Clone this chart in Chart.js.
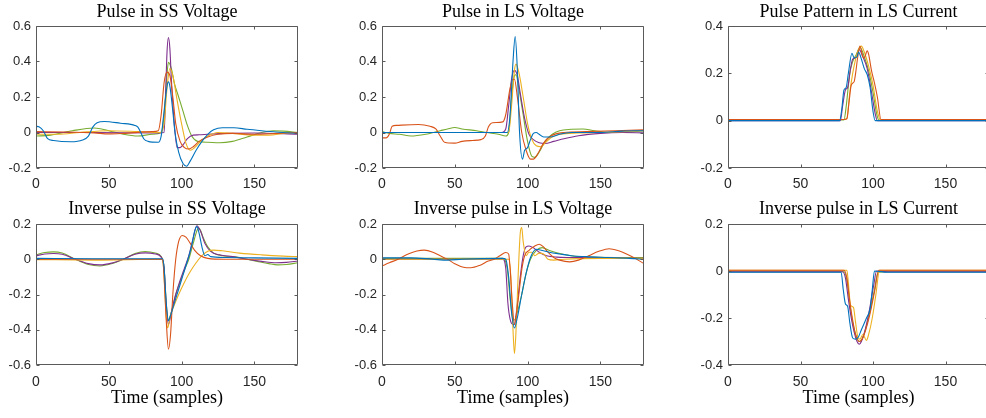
<!DOCTYPE html>
<html><head><meta charset="utf-8">
<script src="https://cdn.jsdelivr.net/npm/chart.js@4.4.1/dist/chart.umd.min.js"></script>
<style>
html,body{margin:0;padding:0;background:#fff;overflow:hidden;width:986px;height:418px;position:relative}
canvas{position:absolute}
</style></head><body>
<canvas id="c0" width="306" height="198" style="left:-4px;top:0px"></canvas>
<canvas id="c1" width="306" height="198" style="left:342px;top:0px"></canvas>
<canvas id="c2" width="305" height="198" style="left:688px;top:0px"></canvas>
<canvas id="c3" width="306" height="213" style="left:-4px;top:200px"></canvas>
<canvas id="c4" width="306" height="213" style="left:342px;top:200px"></canvas>
<canvas id="c5" width="305" height="213" style="left:688px;top:200px"></canvas>
<script>
// ---------- titles / axes ----------
const titles = ["Pulse in SS Voltage","Pulse in LS Voltage","Pulse Pattern in LS Current",
                "Inverse pulse in SS Voltage","Inverse pulse in LS Voltage","Inverse pulse in LS Current"];
const xLabel = "Time (samples)";
const xTicks = [0,50,100,150];
const yMins = [-0.2,-0.2,-0.2,-0.6,-0.6,-0.4];
const yMaxs = [0.6,0.6,0.4,0.2,0.2,0.2];

// ---------- series: [sample, value] ----------
// Panel 1: Pulse in SS Voltage
const p1Blue = [[0,0.035],[2,0.032],[5,0.01],[8,-0.035],[12,-0.045],[24,-0.052],[32,-0.042],[36,-0.02],[39,0.03],[42,0.055],[47,0.062],[58,0.052],[68,0.04],[70,0.03],[72,0.0],[74,-0.035],[77,-0.05],[84,-0.055],[86,-0.02],[88,0.12],[90,0.26],[91,0.285],[92,0.26],[94,0.12],[95.5,0.0],[98,-0.11],[101,-0.175],[103.5,-0.19],[106,-0.16],[110,-0.1],[114,-0.05],[118,-0.01],[122,0.015],[128,0.027],[136,0.027],[145,0.018],[155,0.01],[165,0.003],[180,-0.005]];
const p1Orange = [[0,0.005],[20,0.003],[40,-0.002],[50,-0.008],[60,-0.005],[80,0.005],[84,0.01],[86,0.1],[88,0.28],[90,0.34],[92,0.32],[94,0.2],[96,0.05],[99,-0.05],[102,-0.085],[105,-0.093],[108,-0.08],[112,-0.05],[118,-0.025],[125,-0.01],[135,-0.005],[150,-0.01],[165,-0.005],[180,0.0]];
const p1Yellow = [[0,-0.01],[15,-0.01],[30,0.0],[50,0.01],[70,0.005],[85,0.0],[88,0.05],[90,0.25],[92,0.36],[94,0.32],[97,0.18],[100,0.05],[103,-0.06],[106,-0.1],[109,-0.085],[113,-0.05],[118,-0.02],[125,0.0],[135,-0.005],[150,-0.015],[160,-0.015],[170,-0.005],[180,0.0]];
const p1Purple = [[0,0.0],[40,0.0],[80,-0.003],[88,0.0],[89,0.2],[90,0.45],[91,0.535],[92,0.47],[93,0.3],[95,0.05],[97,-0.085],[99,-0.085],[101,-0.07],[104,-0.035],[108,-0.015],[112,-0.013],[118,-0.01],[130,-0.005],[150,-0.003],[180,-0.01]];
const p1Green = [[0,-0.02],[10,-0.015],[25,0.01],[40,0.025],[50,0.01],[60,-0.01],[70,-0.02],[80,-0.01],[86,0.0],[88,0.1],[90,0.33],[91,0.395],[93,0.36],[95,0.28],[98,0.2],[101,0.12],[104,0.04],[107,-0.02],[111,-0.05],[118,-0.055],[126,-0.058],[135,-0.05],[145,-0.025],[155,0.0],[163,0.01],[170,0.008],[180,0.0]];

// Panel 2: Pulse in LS Voltage
const p2Blue = [[0,0.0],[50,0.0],[86,0.0],[88,0.1],[90,0.4],[91.5,0.54],[93,0.35],[94.5,0.0],[96.5,-0.15],[98,-0.1],[100,-0.085],[102,-0.04],[104,-0.005],[106,0.0],[108,-0.01],[111,-0.025],[116,-0.025],[122,-0.01],[130,0.0],[150,0.0],[165,0.008],[180,0.01]];
const p2Orange = [[0,-0.03],[3,-0.03],[5,-0.01],[7,0.035],[10,0.04],[25,0.045],[33,0.035],[37,0.02],[40,-0.02],[43,-0.055],[50,-0.06],[55,-0.05],[62,-0.045],[68,-0.04],[71,-0.02],[73,0.03],[76,0.055],[83,0.06],[85,0.1],[88,0.25],[90,0.3],[91,0.3],[93,0.2],[96,0.0],[99,-0.1],[102,-0.15],[104,-0.15],[107,-0.12],[111,-0.06],[116,-0.02],[125,0.0],[140,0.005],[160,0.01],[180,0.015]];
const p2Yellow = [[0,0.0],[40,0.0],[80,0.0],[87,0.0],[89,0.15],[91,0.35],[92,0.385],[94,0.34],[97,0.2],[100,0.05],[103,-0.04],[106,-0.075],[109,-0.08],[112,-0.06],[116,-0.03],[122,-0.01],[135,-0.003],[150,0.0],[165,0.005],[180,0.01]];
const p2Purple = [[0,0.0],[40,0.0],[82,0.0],[85,0.02],[87,0.15],[89,0.3],[91,0.35],[93,0.32],[95,0.22],[98,0.08],[101,-0.01],[104,-0.04],[108,-0.058],[112,-0.062],[118,-0.05],[125,-0.035],[135,-0.018],[150,-0.005],[165,0.0],[180,-0.002]];
const p2Green = [[0,0.005],[5,-0.005],[12,-0.01],[20,-0.02],[30,-0.01],[40,0.01],[45,0.02],[50,0.028],[55,0.02],[65,0.01],[72,0.0],[80,-0.01],[85,-0.02],[87,0.0],[89,0.2],[91,0.32],[92,0.325],[94,0.25],[97,0.1],[100,-0.05],[103,-0.135],[105,-0.14],[108,-0.11],[112,-0.05],[117,-0.01],[122,0.01],[130,0.018],[138,0.02],[146,0.01],[155,0.0],[165,0.0],[180,0.01]];

// Panel 3: Pulse Pattern in LS Current
const p3Blue = [[0,0.0],[70,0.0],[77,0.0],[78.5,0.05],[80,0.13],[81.5,0.14],[83,0.2],[85.5,0.285],[87,0.265],[89,0.27],[90,0.29],[92,0.26],[94,0.22],[96,0.195],[98,0.14],[100,0.04],[101.5,0.0],[110,0.0],[180,0.0]];
const p3Orange = [[0,0.005],[80,0.005],[82,0.008],[83.5,0.08],[85,0.15],[87,0.165],[88,0.2],[89.5,0.27],[91,0.315],[93,0.27],[94,0.265],[96,0.295],[97,0.28],[99,0.21],[101,0.16],[103,0.1],[105.5,0.005],[110,0.005],[180,0.005]];
const p3Yellow = [[0,0.005],[80,0.005],[82,0.01],[84,0.12],[86,0.2],[88,0.26],[90,0.3],[92,0.315],[94,0.29],[97,0.23],[100,0.15],[103,0.04],[105,0.005],[110,0.005],[180,0.005]];
const p3Purple = [[0,0.0],[70,0.0],[77.5,0.0],[79,0.06],[81,0.13],[82.5,0.14],[84.5,0.22],[86,0.26],[88,0.265],[90.5,0.3],[93,0.27],[96,0.22],[99,0.12],[101.5,0.03],[103,0.0],[110,0.0],[180,0.0]];
const p3Green = [[0,0.003],[70,0.003],[80,0.003],[81.5,0.06],[84,0.2],[86,0.25],[88.5,0.28],[91,0.31],[94,0.27],[97,0.21],[100,0.12],[102.5,0.03],[104,0.003],[110,0.003],[180,0.003]];

// Panel 4: Inverse pulse in SS Voltage
const p4Blue = [[0,0.005],[40,0.003],[87,0.003],[88,-0.05],[89.5,-0.25],[91,-0.35],[92,-0.33],[95,-0.25],[98,-0.17],[101,-0.09],[104,-0.01],[107,0.08],[109,0.16],[110.5,0.185],[112,0.15],[114,0.07],[116,0.02],[118,0.027],[120,0.015],[130,0.01],[150,0.008],[180,0.005]];
const p4Orange = [[0,0.0],[40,0.0],[87,0.0],[88,-0.1],[89.5,-0.35],[91,-0.51],[92.5,-0.42],[94,-0.2],[96,0.0],[98,0.1],[100.5,0.135],[103,0.125],[106,0.09],[109,0.05],[113,0.02],[118,0.005],[130,0.0],[180,0.0]];
const p4Yellow = [[0,-0.002],[40,-0.005],[87,0.0],[88,-0.1],[89.5,-0.33],[90.5,-0.39],[92,-0.33],[95,-0.26],[98,-0.2],[102,-0.13],[106,-0.07],[110,-0.02],[114,0.02],[118,0.045],[122,0.052],[128,0.048],[140,0.035],[155,0.025],[170,0.018],[180,0.015]];
const p4Purple = [[0,0.02],[6,0.03],[12,0.033],[18,0.028],[27,0.0],[36,-0.025],[44,-0.032],[52,-0.022],[60,0.0],[68,0.028],[75,0.036],[82,0.03],[86,0.012],[88,-0.05],[89.5,-0.27],[91,-0.37],[93,-0.3],[96,-0.2],[99,-0.12],[102,-0.05],[105,0.02],[108,0.12],[110.5,0.19],[113,0.16],[116,0.09],[120,0.045],[126,0.025],[135,0.015],[145,0.0],[155,-0.012],[165,-0.02],[172,-0.018],[180,-0.01]];
const p4Green = [[0,0.025],[6,0.038],[12,0.042],[18,0.035],[27,0.0],[36,-0.03],[44,-0.038],[52,-0.025],[60,0.0],[68,0.032],[75,0.044],[82,0.035],[86,0.015],[88,-0.05],[89.5,-0.25],[91,-0.345],[93,-0.3],[96,-0.2],[99,-0.13],[102,-0.06],[105,0.0],[108,0.09],[111,0.17],[112,0.175],[115,0.12],[118,0.07],[122,0.035],[128,0.02],[138,0.012],[145,0.0],[152,-0.012],[160,-0.025],[166,-0.032],[172,-0.03],[180,-0.02]];

// Panel 5: Inverse pulse in LS Voltage
const p5Blue = [[0,0.008],[20,0.008],[35,0.0],[45,-0.005],[55,0.0],[83,0.005],[85,0.0],[87,-0.1],[89,-0.3],[91,-0.39],[93,-0.33],[96,-0.2],[99,-0.08],[102,0.01],[106,0.057],[110,0.05],[115,0.04],[122,0.03],[130,0.02],[140,0.015],[155,0.01],[170,0.005],[180,0.0]];
const p5Orange = [[0,-0.038],[5,-0.02],[11,0.0],[18,0.03],[24,0.047],[29,0.052],[35,0.04],[41,0.015],[45,0.0],[50,-0.025],[56,-0.045],[61,-0.048],[67,-0.035],[73,-0.01],[77,0.0],[81,0.02],[85,0.038],[87,0.03],[88,-0.05],[89.5,-0.25],[91,-0.37],[92.5,-0.3],[94,-0.2],[96,-0.06],[98,0.02],[101,0.05],[105,0.075],[108,0.085],[111,0.07],[114,0.04],[118,0.01],[122,-0.005],[129,-0.015],[135,-0.005],[142,0.02],[149,0.045],[156,0.06],[162,0.05],[168,0.03],[174,0.005],[180,-0.025]];
const p5Yellow = [[0,0.0],[40,0.0],[87,0.0],[88.5,-0.1],[90,-0.4],[91,-0.535],[92,-0.42],[93.5,-0.1],[95,0.15],[96,0.18],[97,0.1],[99,0.02],[101,0.04],[103,0.04],[105,0.02],[108,0.035],[111,0.03],[114,0.0],[118,-0.005],[125,0.0],[150,0.005],[180,0.005]];
const p5Purple = [[0,0.0],[40,0.0],[83,0.0],[85,-0.05],[86.5,-0.25],[88,-0.34],[90,-0.37],[91,-0.37],[93,-0.25],[95,-0.1],[97,0.02],[99,0.07],[101,0.075],[104,0.065],[108,0.04],[113,0.02],[120,0.012],[130,0.01],[150,0.007],[180,0.005]];
const p5Green = [[0,0.005],[40,0.005],[83,0.005],[86,-0.05],[88,-0.22],[90,-0.34],[91,-0.345],[93,-0.3],[96,-0.2],[99,-0.08],[102,0.0],[106,0.05],[110,0.066],[115,0.05],[120,0.037],[130,0.02],[145,0.012],[160,0.01],[180,0.01]];

// Panel 6: Inverse pulse in LS Current
const p6Blue = [[0,-0.005],[78,-0.005],[79.5,-0.08],[81,-0.14],[82.5,-0.15],[84,-0.22],[86,-0.285],[88,-0.29],[90,-0.28],[92,-0.25],[95.5,-0.2],[98,-0.16],[99.5,-0.08],[101,0.0],[110,-0.005],[180,-0.005]];
const p6Orange = [[0,0.003],[80,0.003],[82,-0.03],[84,-0.13],[86,-0.21],[88,-0.27],[90.5,-0.3],[92.5,-0.29],[95,-0.25],[98,-0.18],[101,-0.09],[104,0.003],[110,0.003],[180,0.003]];
const p6Yellow = [[0,0.003],[82,0.003],[83,-0.05],[84.5,-0.145],[86.5,-0.155],[88,-0.22],[89.5,-0.28],[91,-0.29],[93,-0.27],[95.5,-0.295],[97,-0.27],[99.5,-0.2],[102,-0.1],[104.5,0.003],[110,0.003],[180,0.003]];
const p6Purple = [[0,-0.003],[79,-0.003],[81,-0.03],[83,-0.12],[85,-0.2],[87,-0.26],[89,-0.3],[90.5,-0.312],[92,-0.3],[95,-0.24],[98,-0.15],[100.5,-0.06],[102.5,0.0],[110,-0.003],[180,-0.003]];
const p6Green = [[0,-0.003],[80,-0.003],[82,-0.04],[84,-0.14],[86,-0.22],[88,-0.27],[90.5,-0.3],[92,-0.295],[95,-0.245],[98,-0.17],[101,-0.08],[103.5,-0.005],[110,-0.003],[180,-0.003]];

const seriesColors = ['#0072BD','#D95319','#EDB120','#7E2F8E','#77AC30'];
const panelSeries = [
  [p1Blue,p1Orange,p1Yellow,p1Purple,p1Green],
  [p2Blue,p2Orange,p2Yellow,p2Purple,p2Green],
  [p3Blue,p3Orange,p3Yellow,p3Purple,p3Green],
  [p4Blue,p4Orange,p4Yellow,p4Purple,p4Green],
  [p5Blue,p5Orange,p5Yellow,p5Purple,p5Green],
  [p6Blue,p6Orange,p6Yellow,p6Purple,p6Green]
];

// ---------- drawing ----------
const AX = '#262626';
const boxPlugin = {
  id: 'matlabBox',
  afterDraw(chart) {
    const {ctx, chartArea: a, scales} = chart;
    const x = scales.x, y = scales.y;
    const L = Math.round(a.left) + 0.5, R = Math.round(a.right) - 0.5;
    const T = Math.round(a.top) + 0.5, B = Math.round(a.bottom) - 0.5;
    ctx.save();
    ctx.strokeStyle = '#5a5a5a';
    ctx.lineWidth = 1;
    ctx.beginPath();
    ctx.rect(L, T, R - L, B - T);
    const tl = 3;
    x.ticks.forEach(t => {
      const px = Math.round(x.getPixelForValue(t.value)) + 0.5;
      ctx.moveTo(px, B); ctx.lineTo(px, B - tl);
      ctx.moveTo(px, T); ctx.lineTo(px, T + tl);
    });
    y.ticks.forEach(t => {
      const py = Math.round(y.getPixelForValue(t.value)) + 0.5;
      ctx.moveTo(L, py); ctx.lineTo(L + tl, py);
      ctx.moveTo(R, py); ctx.lineTo(R - tl, py);
    });
    ctx.stroke();
    ctx.restore();
  }
};

const titleFont = {family: "'Liberation Serif', 'Times New Roman', serif", size: 18, lineHeight: 1};
const tickFmt = v => String(Math.round(v * 10) / 10);

for (let i = 0; i < 6; i++) {
  const bottomRow = i >= 3;
  const datasets = panelSeries[i].map((pts, k) => ({
    data: pts.map(p => ({x: p[0], y: p[1]})),
    borderColor: seriesColors[k],
    borderWidth: 1.1,
    pointRadius: 0,
    fill: false,
    cubicInterpolationMode: 'monotone'
  }));
  new Chart(document.getElementById('c' + i), {
    type: 'line',
    data: {datasets},
    plugins: [boxPlugin],
    options: {
      responsive: false,
      animation: false,
      devicePixelRatio: 1,
      layout: {padding: {left: 0, right: 4, top: 0, bottom: 0}},
      plugins: {legend: {display: false}, tooltip: {enabled: false}, title: {display: false}},
      scales: {
        x: {
          type: 'linear', position: 'bottom', min: 0, max: 180,
          afterBuildTicks: s => { s.ticks = xTicks.map(v => ({value: v})); },
          afterFit: s => { s.height = bottomRow ? 48 : 30; },
          grid: {display: false, drawTicks: false},
          border: {display: false},
          ticks: {color: AX, padding: bottomRow ? 9 : 8, maxRotation: 0, autoSkip: false,
                  callback: v => String(v),
                  font: {family: "'Liberation Sans', Arial, sans-serif", size: 14}},
          title: {display: bottomRow, text: xLabel, color: '#000', font: titleFont,
                  padding: {top: 0, bottom: 6}}
        },
        t: {
          type: 'linear', position: 'top', min: 0, max: 1,
          afterFit: s => { s.height = bottomRow ? 24 : 26; },
          grid: {display: false, drawTicks: false},
          border: {display: false},
          ticks: {display: false},
          title: {display: true, text: titles[i], color: '#000', font: titleFont,
                  padding: {top: bottomRow ? 0 : 3, bottom: 0}}
        },
        y: {
          type: 'linear', position: 'left', min: yMins[i], max: yMaxs[i],
          afterFit: s => { s.width = 40; },
          grid: {display: false, drawTicks: false},
          border: {display: false},
          ticks: {color: AX, padding: 5, stepSize: 0.2, callback: tickFmt,
                  font: {family: "'Liberation Sans', Arial, sans-serif", size: 13}}
        }
      }
    }
  });
}
</script>
</body></html>
